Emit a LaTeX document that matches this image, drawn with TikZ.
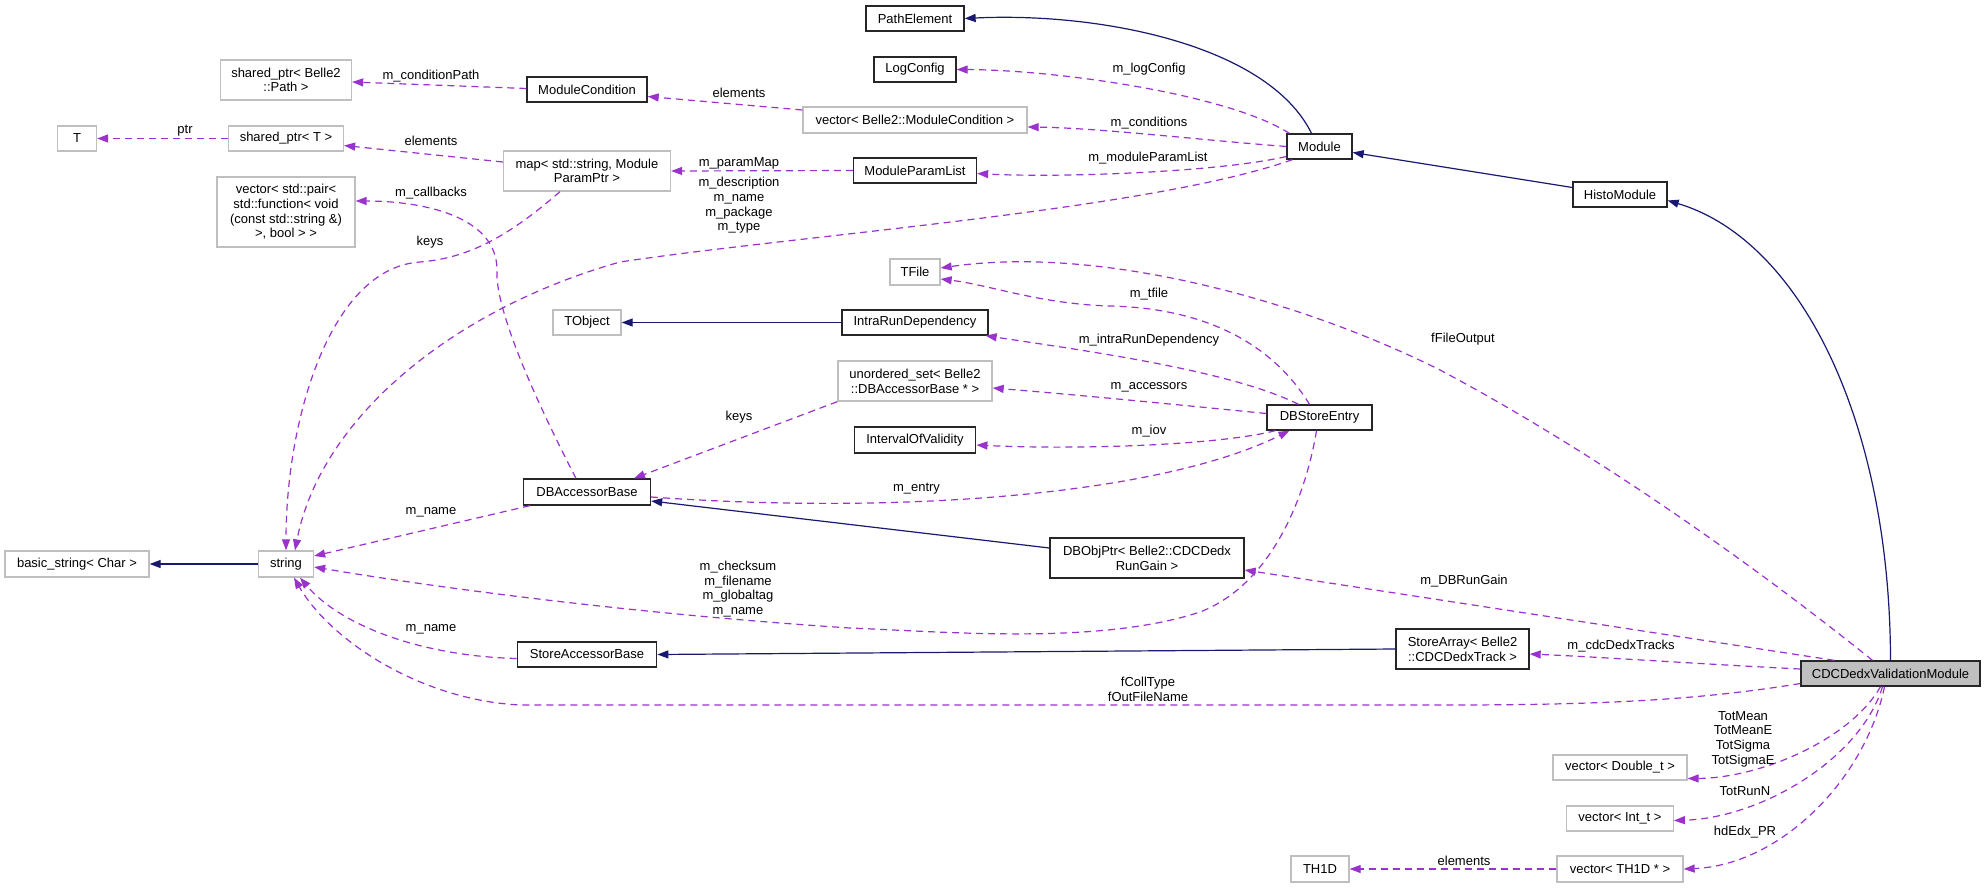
\documentclass[tikz,border=0pt]{standalone}
\usepackage{fontspec}
\setmainfont{Liberation Sans}
\usetikzlibrary{arrows.meta}
\definecolor{usecol}{HTML}{9A32CD}
\definecolor{inhcol}{HTML}{191970}
\definecolor{graybd}{HTML}{BFBFBF}
\begin{document}
\begin{tikzpicture}[x=1pt,y=-1pt,
  every node/.style={font=\fontsize{13}{14.7}\selectfont, inner sep=0pt},
  box/.style={line width=1.3pt, fill=white, align=center, inner sep=0pt},
  gbox/.style={box, draw=graybd},
  bbox/.style={box, draw=black!85},
  use/.style={draw=usecol, line width=1.2pt, dash pattern=on 7pt off 5pt, -{Triangle[length=11pt,width=8pt]}},
  inh/.style={draw=inhcol, line width=1.2pt, -{Triangle[length=11pt,width=8pt]}},
  lbl/.style={align=center}
]
\fill[white] (0,0) rectangle (1985,888);
\useasboundingbox (0,0) rectangle (1985,888);

% nodes
\node[bbox, minimum width=98pt, minimum height=25pt] (pathel) at (915,18.5) {PathElement};
\node[bbox, minimum width=82pt, minimum height=25pt] (logcfg) at (915,69.5) {LogConfig};
\node[gbox, minimum width=224pt, minimum height=26pt] (vecmc) at (915,120) {vector< Belle2::ModuleCondition >};
\node[bbox, minimum width=123pt, minimum height=25pt] (mpl) at (915,170.5) {ModuleParamList};
\node[bbox, minimum width=65pt, minimum height=25pt] (module) at (1319.5,146.5) {Module};
\node[gbox, minimum width=50pt, minimum height=26pt] (tfile) at (915,272) {TFile};
\node[bbox, minimum width=94pt, minimum height=25pt] (histo) at (1620,194.5) {HistoModule};
\node[gbox, minimum width=131pt, minimum height=40pt] (spath) at (286,80) {shared\_ptr< Belle2\\::Path >};
\node[bbox, minimum width=120pt, minimum height=25pt] (mcond) at (587,89.5) {ModuleCondition};
\node[gbox, minimum width=39pt, minimum height=25pt] (T) at (77,138.5) {T};
\node[gbox, minimum width=115pt, minimum height=25pt] (sptrT) at (286,138.5) {shared\_ptr< T >};
\node[gbox, minimum width=167pt, minimum height=40pt] (map) at (587,171) {map< std::string, Module\\ParamPtr >};
\node[gbox, minimum width=138pt, minimum height=70pt] (vpair) at (286,212) {vector< std::pair<\\ std::function< void\\ (const std::string \&)\\ >, bool > >};
\node[gbox, minimum width=68pt, minimum height=25pt] (tobject) at (587,322.5) {TObject};
\node[bbox, minimum width=127pt, minimum height=26pt] (dbab) at (587,492) {DBAccessorBase};
\node[gbox, minimum width=144pt, minimum height=26pt] (bstr) at (77,564) {basic\_string< Char >};
\node[gbox, minimum width=55pt, minimum height=26pt] (string) at (286,564) {string};
\node[bbox, minimum width=146pt, minimum height=25pt] (ird) at (915,322.5) {IntraRunDependency};
\node[gbox, minimum width=154pt, minimum height=40pt] (uset) at (915,381) {unordered\_set< Belle2\\::DBAccessorBase * >};
\node[bbox, minimum width=121.5pt, minimum height=26pt] (iov) at (915,440) {IntervalOfValidity};
\node[bbox, minimum width=105pt, minimum height=25pt] (dbse) at (1319.5,417.5) {DBStoreEntry};
\node[bbox, minimum width=194pt, minimum height=40pt] (dbobj) at (1147,558) {DBObjPtr< Belle2::CDCDedx\\RunGain >};
\node[bbox, minimum width=139.5pt, minimum height=25pt] (sab) at (587,654.5) {StoreAccessorBase};
\node[bbox, minimum width=133pt, minimum height=40pt] (sarr) at (1462.5,649) {StoreArray< Belle2\\::CDCDedxTrack >};
\node[bbox, fill=graybd, minimum width=179pt, minimum height=25pt] (cdc) at (1890.5,673.5) {CDCDedxValidationModule};
\node[gbox, minimum width=134pt, minimum height=25pt] (vdbl) at (1620,767.5) {vector< Double\_t >};
\node[gbox, minimum width=106.5pt, minimum height=25pt] (vint) at (1620,818.5) {vector< Int\_t >};
\node[gbox, minimum width=126pt, minimum height=26pt] (vth1) at (1620,869) {vector< TH1D * >};
\node[gbox, minimum width=58pt, minimum height=26pt] (th1d) at (1320,869) {TH1D};

% inheritance edges
\draw[inh] ([xshift=-8pt]module.north) .. controls (1268,45) and (1100,12) .. (pathel.east);
\draw[inh] ([yshift=7pt]histo.west) -- ([yshift=-6pt]module.east);
\draw[inh] (cdc.north) .. controls (1890,420) and (1800,240) .. ([yshift=-6pt]histo.east);
\draw[inh] (ird.west) -- (tobject.east);
\draw[inh] ([yshift=10pt]dbobj.west) -- ([yshift=-9pt]dbab.east);
\draw[inh] (sarr.west) -- (sab.east);
\draw[inh] (string.west) -- (bstr.east);

% usage edges
\draw[use] ([xshift=3pt]module.north west) .. controls (1230,95) and (1060,70) .. (logcfg.east);
\draw[use] (module.west) .. controls (1200,140) and (1100,128) .. ([yshift=-7pt]vecmc.east);
\draw[use] ([yshift=-10pt]module.west) .. controls (1220,172) and (1060,178) .. ([yshift=-3pt]mpl.east);
\draw[use] ([xshift=6pt]module.south west) .. controls (1150,210) and (800,235) .. (620,262)
  .. controls (450,310) and (320,420) .. ([xshift=9pt]string.north);
\draw[use] ([yshift=10pt]vecmc.west) -- ([yshift=-7pt]mcond.east);
\draw[use] ([yshift=1pt]mcond.west) -- ([yshift=-2pt]spath.east);
\draw[use] (sptrT.west) -- (T.east);
\draw[use] ([yshift=9pt]map.west) -- ([yshift=-7pt]sptrT.east);
\draw[use] (mpl.west) -- (map.east);
\draw[use] ([xshift=-27pt]map.south) .. controls (510,235) and (470,258) .. (420,262)
  .. controls (330,268) and (286,420) .. (string.north);
\draw[use] ([xshift=-11pt]dbab.north) .. controls (520,370) and (495,300) .. (497,270)
  .. controls (497,215) and (420,201) .. ([yshift=11pt]vpair.east);
\draw[use] ([xshift=-10pt]dbse.north) .. controls (1270,340) and (1200,308) .. (1110,306)
  .. controls (1040,304) and (990,285) .. ([yshift=-7pt]tfile.east);
\draw[use] ([xshift=-18pt]cdc.north) .. controls (1760,570) and (1600,455) .. (1440,370)
  .. controls (1300,300) and (1100,245) .. ([yshift=4pt]tfile.east);
\draw[use] ([xshift=-21pt]dbse.north) .. controls (1230,370) and (1080,350) .. ([xshift=-3pt]ird.south east);
\draw[use] ([yshift=4pt]dbse.west) .. controls (1180,405) and (1080,395) .. ([yshift=-7pt]uset.east);
\draw[use] ([xshift=9pt]dbse.south west) .. controls (1220,445) and (1080,450) .. ([yshift=-5pt]iov.east);
\draw[use] ([yshift=-5pt]dbab.east) .. controls (900,515) and (1160,495) .. ([xshift=-30pt]dbse.south);
\draw[use] (uset.south west) -- ([xshift=47pt]dbab.north);
\draw[use] ([xshift=7pt]dbab.south west) -- ([yshift=8pt]string.east);
\draw[use] ([xshift=-3pt]dbse.south) .. controls (1305,500) and (1270,585) .. (1200,612)
  .. controls (1100,645) and (950,632) .. (850,628)
  .. controls (650,615) and (450,590) .. ([yshift=-3pt]string.east);
\draw[use] ([xshift=34pt]cdc.north west) -- ([yshift=-12pt]dbobj.east);
\draw[use] ([yshift=-4pt]sab.west) .. controls (420,656) and (340,625) .. ([xshift=14pt]string.south);
\draw[use] ([yshift=4.5pt]cdc.west) .. controls (1700,664) and (1600,657) .. ([yshift=-5pt]sarr.east);
\draw[use] ([yshift=-10pt]cdc.west) .. controls (1700,700) and (1600,705) .. (1450,705)
  -- (520,705) .. controls (420,700) and (330,640) .. ([xshift=8pt]string.south);
\draw[use] ([xshift=-10pt]cdc.south) .. controls (1850,740) and (1760,778) .. ([yshift=-11pt]vdbl.east);
\draw[use] ([xshift=-8pt]cdc.south) .. controls (1860,760) and (1760,818) .. ([yshift=-2pt]vint.east);
\draw[use] ([xshift=-6pt]cdc.south) .. controls (1865,780) and (1780,865) .. (vth1.east);
\draw[use] (vth1.west) -- (th1d.east);

% edge labels
\node[lbl] (l1) at (431,76) {m\_conditionPath};
\node[lbl] (l2) at (185,131) {ptr};
\node[lbl] (l3) at (431,141) {elements};
\node[lbl] (l4) at (431,193) {m\_callbacks};
\node[lbl] (l5) at (430,242) {keys};
\node[lbl] (l6) at (739,93) {elements};
\node[lbl] (l7) at (1149,69) {m\_logConfig};
\node[lbl] (l8) at (1149,123) {m\_conditions};
\node[lbl] (l9) at (739,163) {m\_paramMap};
\node[lbl] (l10) at (1148,158) {m\_moduleParamList};
\node[lbl] (l11) at (739,205.5) {m\_description\\m\_name\\m\_package\\m\_type};
\node[lbl] (l12) at (1149,294) {m\_tfile};
\node[lbl] (l13) at (1149,340) {m\_intraRunDependency};
\node[lbl] (l14) at (1149,387) {m\_accessors};
\node[lbl] (l15) at (739,417) {keys};
\node[lbl] (l16) at (1149,431) {m\_iov};
\node[lbl] (l17) at (916.5,489) {m\_entry};
\node[lbl] (l18) at (431,512) {m\_name};
\node[lbl] (l19) at (738,589) {m\_checksum\\m\_filename\\m\_globaltag\\m\_name};
\node[lbl] (l20) at (431,629) {m\_name};
\node[lbl] (l21) at (1148,689.5) {fCollType\\fOutFileName};
\node[lbl] (l22) at (1464,581) {m\_DBRunGain};
\node[lbl] (l23) at (1621,646) {m\_cdcDedxTracks};
\node[lbl] (l24) at (1743,739) {TotMean\\TotMeanE\\TotSigma\\TotSigmaE};
\node[lbl] (l25) at (1745,791) {TotRunN};
\node[lbl] (l26) at (1745,832) {hdEdx\_PR};
\node[lbl] (l27) at (1464,861) {elements};
\node[lbl] (l28) at (1463,339) {fFileOutput};
\end{tikzpicture}
\end{document}
